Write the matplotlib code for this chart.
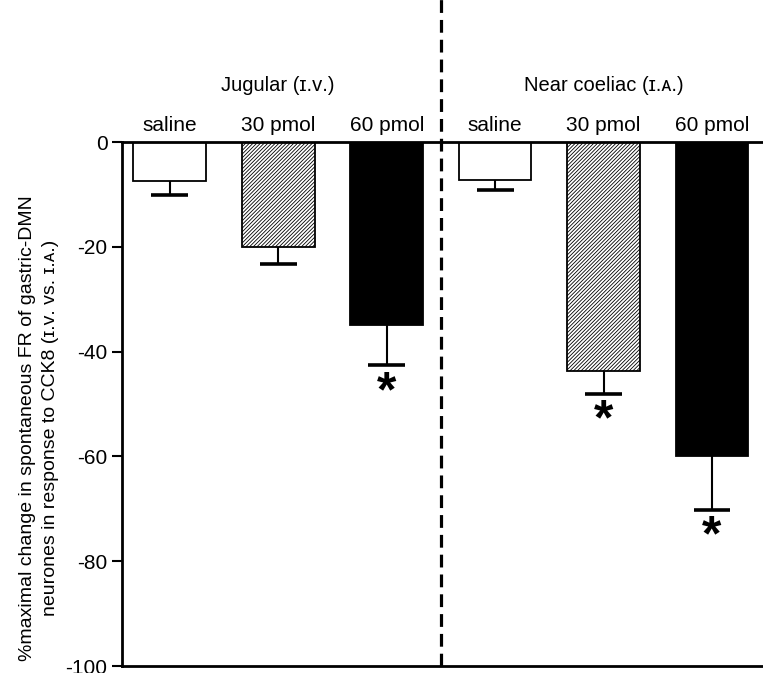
import matplotlib
matplotlib.use("Agg")
import matplotlib.pyplot as plt

plt.rcParams['font.family'] = ['Liberation Sans', 'DejaVu Sans']
plt.rcParams['hatch.linewidth'] = 0.6
plt.rcParams['axes.unicode_minus'] = False

# 数据
groups = ['Jugular (ɪ.ᴠ.)', 'Near coeliac (ɪ.ᴀ.)']
doses = ['saline', '30 pmol', '60 pmol']
means = [-7.5, -20.0, -35.0, -7.3, -43.7, -60.0]
sems = [2.6, 3.2, 7.6, 1.9, 4.3, 10.2]
signif = [False, False, True, False, True, True]

fig = plt.figure(figsize=(7.63, 6.73), dpi=100)
ax = fig.add_axes([0.16, 0.0104, 0.84, 0.7786])

x = list(range(6))
faces = ['white', 'white', 'black'] * 2
hatches = [None, '/////////', None] * 2
for i in x:
    ax.bar(i, means[i], width=0.67, color=faces[i], edgecolor='black',
           linewidth=1.3, hatch=hatches[i], zorder=2)
    low = means[i] - sems[i]
    # 只画向下的误差线
    ax.vlines(i, low, means[i], color='black', linewidth=1.5, zorder=3)
    ax.hlines(low, i - 0.17, i + 0.17, color='black', linewidth=2.6, zorder=3)
    if signif[i]:
        ax.text(i, low - 0.9, '*', ha='center', va='top',
                fontsize=36, fontweight='bold')
    ax.text(i, 1.3, doses[i % 3], ha='center', va='bottom', fontsize=15)

for g in range(2):
    ax.text(1 + 3 * g, 10.7, groups[g], ha='center', va='center', fontsize=14.5)

# 分隔虚线
ax.axvline(2.5, ymin=0, ymax=1.28, color='black', linestyle=(0, (4, 2.2)),
           linewidth=2.3, clip_on=False, zorder=4)

ax.set_xlim(-0.44, 5.47)
ax.set_ylim(-100, 0)
ax.set_yticks([0, -20, -40, -60, -80, -100])
ax.set_xticks([])
ax.tick_params(axis='y', labelsize=15, length=7, width=1.5, direction='out')
ax.spines['right'].set_visible(False)
for s in ['left', 'top', 'bottom']:
    ax.spines[s].set_linewidth(2)

ax.set_ylabel('%maximal change in spontaneous FR of gastric-DMN\n'
              'neurones in response to CCK8 (ɪ.ᴠ. vs. ɪ.ᴀ.)', fontsize=14,
              linespacing=1.45)
ax.yaxis.set_label_coords(-0.098, 0.454)

fig.savefig('out.png', dpi=100)
